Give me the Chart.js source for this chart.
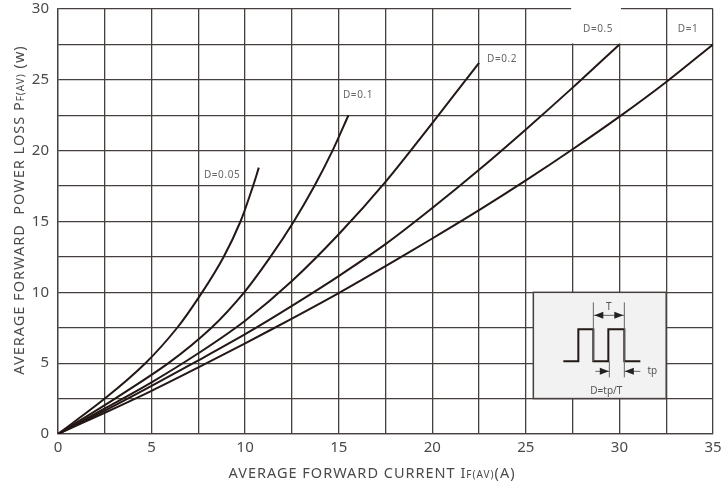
<!DOCTYPE html>
<html>
<head>
<meta charset="utf-8">
<script src="https://cdn.jsdelivr.net/npm/chart.js@4/dist/chart.umd.min.js"></script>
<style>
  html, body { margin: 0; padding: 0; background: #fff; }
  #wrap { width: 722px; height: 490px; }
</style>
</head>
<body>
<div id="wrap"><canvas id="chart" width="722" height="490"></canvas></div>
<script>
// values (I in A, P in W)
const d005I = [0, 2.5, 4.67, 6.37, 7.7, 8.85, 9.75, 10.42, 10.73]
const d005P = [0, 2.5, 5, 7.5, 10, 12.5, 15, 17.5, 18.8]
const d01I = [0, 3.05, 5.9, 8.2, 9.95, 11.35, 12.6, 13.7, 14.67, 15.52]
const d01P = [0, 2.5, 5, 7.5, 10, 12.5, 15, 17.5, 20, 22.5]
const d02I = [0, 2.5, 5, 7.5, 10, 12.5, 15, 17.5, 20, 22.5]
const d02P = [0, 1.8, 3.65, 5.7, 8.0, 10.8, 14.1, 17.8, 21.95, 26.2]
const d05I = [0, 2.5, 5, 7.5, 10, 12.5, 15, 17.5, 20, 22.5, 25, 27.5, 30]
const d05P = [0, 1.65, 3.4, 5.2, 7.05, 9.05, 11.15, 13.4, 15.95, 18.65, 21.5, 24.45, 27.5]
const d1I = [0, 2.5, 5, 7.5, 10, 12.5, 15, 17.5, 20, 22.5, 25, 27.5, 30, 32.5, 35]
const d1P = [0, 1.5, 3.05, 4.7, 6.4, 8.15, 9.95, 11.85, 13.8, 15.8, 17.9, 20.1, 22.4, 24.85, 27.5]

const xTickLabels = ['0', '5', '10', '15', '20', '25', '30', '35']
const yTickLabels = ['0', '5', '10', '15', '20', '25', '30']

const LINE = '#231815'
const GRID = '#45403e'
const TEXT = '#4a4a4a'
const FONT = '"Noto Sans", "DejaVu Sans", sans-serif'

function pts (xs, ys) {
  return xs.map((x, i) => ({ x: x, y: ys[i] }))
}

function series (label, xs, ys) {
  return {
    label: label,
    data: pts(xs, ys),
    borderColor: LINE,
    borderWidth: 2,
    pointRadius: 0,
    showLine: true,
    fill: false,
    tension: 0.3
  }
}

// mixed size text: parts = [[text, size], ...], drawn centred on (0,0)
function drawParts (ctx, parts, spacing) {
  ctx.letterSpacing = spacing + 'px'
  let total = 0
  parts.forEach(p => {
    ctx.font = p[1] + 'px ' + FONT
    total += ctx.measureText(p[0]).width
  })
  let x = -total / 2
  parts.forEach(p => {
    ctx.font = p[1] + 'px ' + FONT
    ctx.fillText(p[0], x, 0)
    x += ctx.measureText(p[0]).width
  })
  ctx.letterSpacing = '0px'
}

function arrow (ctx, x, y, dir) {
  ctx.beginPath()
  ctx.moveTo(x, y)
  ctx.lineTo(x - dir * 9, y - 3.5)
  ctx.lineTo(x - dir * 9, y + 3.5)
  ctx.closePath()
  ctx.fill()
}

const decor = {
  id: 'decor',
  beforeDatasetsDraw (chart) {
    const ctx = chart.ctx
    const xs = chart.scales.x
    const ys = chart.scales.y
    ctx.save()
    // blank cell behind the D=0.5 label
    const bx0 = xs.getPixelForValue(27.5) - 1.5
    const bx1 = xs.getPixelForValue(30) + 1.5
    const by0 = ys.getPixelForValue(30) - 2
    const by1 = ys.getPixelForValue(27.5) - 1
    ctx.fillStyle = '#fff'
    ctx.fillRect(bx0, by0, bx1 - bx0, by1 - by0)

    // duty cycle inset
    const l = xs.getPixelForValue(25.4)
    const r = xs.getPixelForValue(32.5)
    const t = ys.getPixelForValue(10)
    const b = ys.getPixelForValue(2.5)
    ctx.fillStyle = '#f2f2f2'
    ctx.fillRect(l, t, r - l, b - t)
    ctx.strokeStyle = GRID
    ctx.lineWidth = 1.5
    ctx.strokeRect(l, t, r - l, b - t)

    const ox = l
    const oy = t
    // waveform
    ctx.strokeStyle = LINE
    ctx.lineWidth = 2
    ctx.beginPath()
    ctx.moveTo(ox + 30, oy + 69)
    ctx.lineTo(ox + 45, oy + 69)
    ctx.lineTo(ox + 45, oy + 37)
    ctx.lineTo(ox + 60, oy + 37)
    ctx.lineTo(ox + 60, oy + 69)
    ctx.lineTo(ox + 75, oy + 69)
    ctx.lineTo(ox + 75, oy + 37)
    ctx.lineTo(ox + 91, oy + 37)
    ctx.lineTo(ox + 91, oy + 69)
    ctx.lineTo(ox + 107, oy + 69)
    ctx.stroke()

    // marker lines
    ctx.strokeStyle = '#666'
    ctx.lineWidth = 1
    ctx.beginPath()
    ctx.moveTo(ox + 60, oy + 10); ctx.lineTo(ox + 60, oy + 69)
    ctx.moveTo(ox + 91, oy + 10); ctx.lineTo(ox + 91, oy + 85)
    ctx.moveTo(ox + 76, oy + 69); ctx.lineTo(ox + 76, oy + 85)
    ctx.moveTo(ox + 60, oy + 23); ctx.lineTo(ox + 91, oy + 23)
    ctx.moveTo(ox + 62, oy + 79); ctx.lineTo(ox + 76, oy + 79)
    ctx.moveTo(ox + 91, oy + 79); ctx.lineTo(ox + 107, oy + 79)
    ctx.stroke()
    ctx.fillStyle = '#222'
    arrow(ctx, ox + 61, oy + 23, -1)
    arrow(ctx, ox + 90, oy + 23, 1)
    arrow(ctx, ox + 75.5, oy + 79, 1)
    arrow(ctx, ox + 91.5, oy + 79, -1)

    ctx.fillStyle = '#555'
    ctx.font = '10px ' + FONT
    ctx.textAlign = 'center'
    ctx.textBaseline = 'middle'
    ctx.fillText('T', ox + 75.5, oy + 15)
    ctx.fillText('tp', ox + 119, oy + 79)
    ctx.fillText('D=tp/T', ox + 73, oy + 99)
    ctx.restore()
  },
  afterDraw (chart) {
    const ctx = chart.ctx
    const xs = chart.scales.x
    const ys = chart.scales.y
    ctx.save()
    ctx.fillStyle = '#666'
    ctx.font = '10px ' + FONT
    ctx.textAlign = 'center'
    ctx.textBaseline = 'middle'
    const tags = [['D=0.05', 8.77, 18.28], ['D=0.1', 16.03, 23.92], ['D=0.2', 23.73, 26.46],
      ['D=0.5', 28.86, 28.58], ['D=1', 33.67, 28.58]]
    tags.forEach(tg => {
      ctx.letterSpacing = '0.6px'
      ctx.fillText(tg[0], xs.getPixelForValue(tg[1]), ys.getPixelForValue(tg[2]))
    })
    ctx.letterSpacing = '0px'

    // axis titles with subscripts
    ctx.fillStyle = TEXT
    ctx.textAlign = 'left'
    ctx.textBaseline = 'alphabetic'
    ctx.save()
    ctx.translate(372, 478)
    drawParts(ctx, [['AVERAGE FORWARD CURRENT I', 14.5], ['F(AV)', 10], ['(A)', 14.5]], 1)
    ctx.restore()
    ctx.save()
    ctx.translate(24, 210)
    ctx.rotate(-Math.PI / 2)
    drawParts(ctx, [['AVERAGE FORWARD  POWER LOSS P', 14.5], ['F(AV)', 10], [' (w)', 14.5]], 1)
    ctx.restore()
    ctx.restore()
  }
}

new Chart(document.getElementById('chart'), {
  type: 'scatter',
  data: {
    datasets: [
      series('D=0.05', d005I, d005P),
      series('D=0.1', d01I, d01P),
      series('D=0.2', d02I, d02P),
      series('D=0.5', d05I, d05P),
      series('D=1', d1I, d1P)
    ]
  },
  options: {
    responsive: false,
    animation: false,
    layout: { padding: { top: 9, right: 9, left: 0, bottom: 0 } },
    plugins: {
      legend: { display: false },
      tooltip: { enabled: false }
    },
    scales: {
      x: {
        type: 'linear',
        min: 0,
        max: 35,
        afterFit (scale) {
          scale.height = 56
          scale.paddingLeft = 0
          scale.paddingRight = 0
        },
        border: { display: true, color: GRID, width: 1.3 },
        grid: { color: GRID, lineWidth: 1.3, drawTicks: false },
        ticks: {
          stepSize: 2.5,
          padding: 5,
          autoSkip: false,
          maxRotation: 0,
          color: TEXT,
          font: { family: FONT, size: 15 },
          callback: v => (v % 5 === 0 ? xTickLabels[v / 5] : '')
        }
      },
      y: {
        type: 'linear',
        min: 0,
        max: 30,
        afterFit (scale) {
          scale.width = 58
          scale.paddingTop = 0
          scale.paddingBottom = 0
        },
        border: { display: true, color: GRID, width: 1.3 },
        grid: { color: GRID, lineWidth: 1.3, drawTicks: false },
        ticks: {
          stepSize: 2.5,
          padding: 9,
          autoSkip: false,
          color: TEXT,
          font: { family: FONT, size: 15 },
          callback: v => (v % 5 === 0 ? yTickLabels[v / 5] : '')
        }
      }
    }
  },
  plugins: [decor]
})
</script>
</body>
</html>
